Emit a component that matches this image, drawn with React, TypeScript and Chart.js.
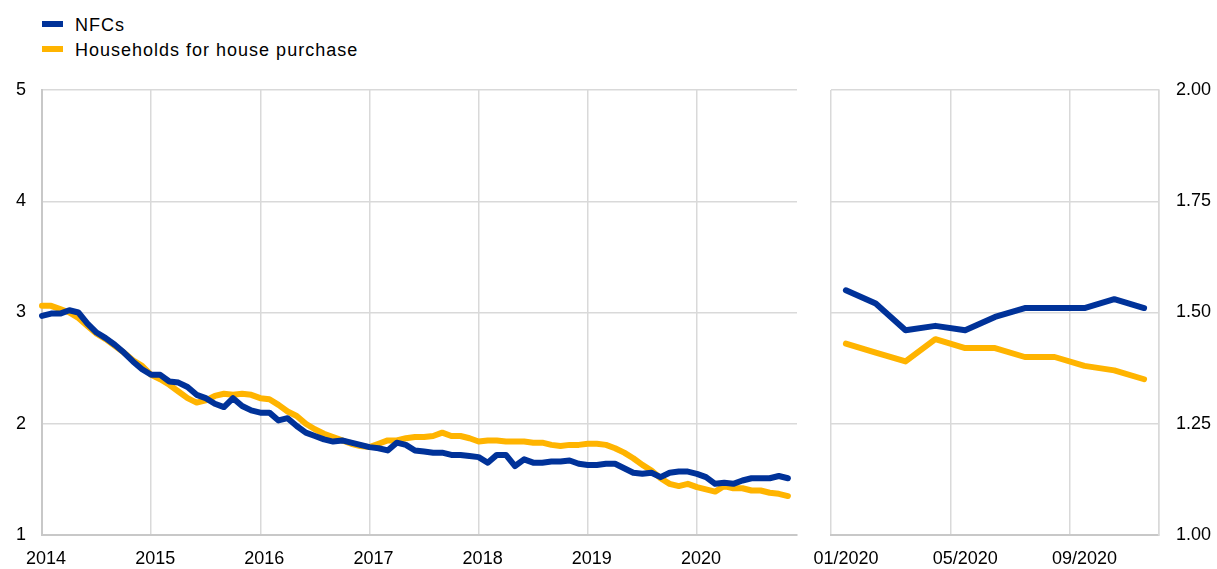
import React, { useEffect, useRef } from "react";
import { Chart, registerables } from "chart.js";

Chart.register(...registerables);

// ---- data ----
const years = ["2014", "2015", "2016", "2017", "2018", "2019", "2020"];
const monthsOfYear = ["01", "02", "03", "04", "05", "06", "07", "08", "09", "10", "11", "12"];

// NFCs, Jan 2014 - Dec 2019
const nfc2014to2019 = [
  2.97, 2.99, 2.99, 3.02, 3.0, 2.9, 2.82, 2.77, 2.71, 2.64, 2.56, 2.49,
  2.44, 2.44, 2.38, 2.37, 2.33, 2.26, 2.23, 2.18, 2.15, 2.23, 2.16, 2.12,
  2.1, 2.1, 2.03, 2.05, 1.98, 1.92, 1.89, 1.86, 1.84, 1.85, 1.83, 1.81,
  1.79, 1.78, 1.76, 1.83, 1.81, 1.76, 1.75, 1.74, 1.74, 1.72, 1.72, 1.71,
  1.7, 1.65, 1.72, 1.72, 1.62, 1.68, 1.65, 1.65, 1.66, 1.66, 1.67, 1.64,
  1.63, 1.63, 1.64, 1.64, 1.6, 1.56, 1.55, 1.56, 1.52, 1.56, 1.57, 1.57,
];
// Households for house purchase, Jan 2014 - Dec 2019
const hh2014to2019 = [
  3.06, 3.06, 3.03, 3.0, 2.95, 2.88, 2.81, 2.76, 2.7, 2.64, 2.57, 2.52,
  2.44, 2.4, 2.35, 2.29, 2.23, 2.19, 2.21, 2.25, 2.27, 2.26, 2.27, 2.26,
  2.23, 2.22, 2.17, 2.11, 2.07, 2.0, 1.95, 1.91, 1.88, 1.85, 1.82, 1.8,
  1.79, 1.82, 1.85, 1.85, 1.87, 1.88, 1.88, 1.89, 1.92, 1.89, 1.89, 1.87,
  1.84, 1.85, 1.85, 1.84, 1.84, 1.84, 1.83, 1.83, 1.81, 1.8, 1.81, 1.81,
  1.82, 1.82, 1.81, 1.78, 1.74, 1.69, 1.63, 1.58, 1.51, 1.46, 1.44, 1.46,
];
// Jan 2020 - Nov 2020
const months2020 = ["01/2020", "02/2020", "03/2020", "04/2020", "05/2020", "06/2020", "07/2020", "08/2020", "09/2020", "10/2020", "11/2020"];
const nfc2020 = [1.55, 1.52, 1.46, 1.47, 1.46, 1.49, 1.51, 1.51, 1.51, 1.53, 1.51];
const hh2020 = [1.43, 1.41, 1.39, 1.44, 1.42, 1.42, 1.4, 1.4, 1.38, 1.37, 1.35];

const leftTicks = [1, 2, 3, 4, 5];
const rightTicks = [1.0, 1.25, 1.5, 1.75, 2.0];

const seriesNames = ["NFCs", "Households for house purchase"];
const BLUE = "#003299";
const YELLOW = "#FFB400";
const GRID = "#d9d9d9";
const BORDER = "#c8c8c8";
const FONT = "'Liberation Sans', Arial, sans-serif";

const monthlyLabels: string[] = [];
years.forEach((y) => monthsOfYear.forEach((m) => monthlyLabels.push(`${m}/${y}`)));
const nfcAll = [...nfc2014to2019, ...nfc2020];
const hhAll = [...hh2014to2019, ...hh2020];

function lineDs(label: string, data: number[], color: string) {
  return {
    label,
    data,
    borderColor: color,
    backgroundColor: color,
    borderWidth: 6,
    pointRadius: 0,
    tension: 0,
    borderJoinStyle: "round" as const,
    borderCapStyle: "round" as const,
    fill: false,
  };
}

export default function App() {
  const leftRef = useRef<HTMLCanvasElement>(null);
  const rightRef = useRef<HTMLCanvasElement>(null);

  useEffect(() => {
    Chart.defaults.font.family = FONT;
    Chart.defaults.font.size = 18;
    Chart.defaults.color = "#000";

    const left = new Chart(leftRef.current!, {
      type: "line",
      data: {
        labels: monthlyLabels,
        datasets: [lineDs(seriesNames[0], nfcAll, BLUE), lineDs(seriesNames[1], hhAll, YELLOW)],
      },
      options: {
        animation: false,
        responsive: false,
        maintainAspectRatio: false,
        layout: { padding: { top: 90, right: 11, left: 0, bottom: 0 } },
        plugins: { legend: { display: false }, tooltip: { enabled: false } },
        scales: {
          x: {
            type: "category",
            offset: false,
            afterFit: (s: any) => { s.height = 34; },
            grid: {
              drawTicks: false,
              lineWidth: 1.5,
              color: (ctx: any) => (ctx.index !== undefined && ctx.index % 12 === 0 ? GRID : "transparent"),
            },
            border: { display: true, color: BORDER, width: 2 },
            ticks: {
              autoSkip: false,
              maxRotation: 0,
              minRotation: 0,
              padding: 13,
              labelOffset: 4,
              callback: (_v: any, i: number) => (i % 12 === 0 ? years[i / 12] : ""),
            },
          },
          y: {
            min: 1,
            max: 5,
            afterFit: (s: any) => { s.width = 42; },
            afterBuildTicks: (s: any) => { s.ticks = leftTicks.map((v) => ({ value: v })); },
            grid: { drawTicks: false, color: GRID, lineWidth: 1.5 },
            border: { display: true, color: BORDER, width: 2 },
            ticks: { padding: 16, callback: (v: any) => String(v) },
          },
        },
      },
    });

    const right = new Chart(rightRef.current!, {
      type: "line",
      data: {
        labels: months2020,
        datasets: [lineDs(seriesNames[0], nfc2020, BLUE), lineDs(seriesNames[1], hh2020, YELLOW)],
      },
      options: {
        animation: false,
        responsive: false,
        maintainAspectRatio: false,
        layout: { padding: { top: 90, right: 0, left: 41, bottom: 0 } },
        plugins: { legend: { display: false }, tooltip: { enabled: false } },
        scales: {
          x: {
            type: "category",
            offset: true,
            afterFit: (s: any) => { s.height = 34; },
            grid: {
              offset: true,
              drawTicks: false,
              lineWidth: 1.5,
              color: (ctx: any) =>
                ctx.index === undefined || ctx.index % 4 === 0 ? GRID : "transparent",
            },
            border: { display: true, color: BORDER, width: 2 },
            ticks: {
              autoSkip: false,
              maxRotation: 0,
              minRotation: 0,
              padding: 13,
              callback: (_v: any, i: number) => (i % 4 === 0 ? months2020[i] : ""),
            },
          },
          y: {
            position: "right",
            min: 1,
            max: 2,
            afterFit: (s: any) => { s.width = 58; },
            afterBuildTicks: (s: any) => { s.ticks = rightTicks.map((v) => ({ value: v })); },
            grid: { drawTicks: false, color: GRID, lineWidth: 1.5 },
            border: { display: true, color: GRID, width: 1.5 },
            ticks: { padding: 17, callback: (v: any) => Number(v).toFixed(2) },
          },
        },
      },
    });

    return () => {
      left.destroy();
      right.destroy();
    };
  }, []);

  const legendItem = (name: string, color: string, top: number, boxTop: number) => (
    <React.Fragment key={name}>
      <div style={{ position: "absolute", left: 42, top: boxTop, width: 21, height: 6, background: color }} />
      <div
        style={{
          position: "absolute",
          left: 75,
          top,
          fontFamily: FONT,
          fontSize: 18,
          lineHeight: "20px",
          letterSpacing: "1px",
          color: "#000",
          whiteSpace: "nowrap",
        }}
      >
        {name}
      </div>
    </React.Fragment>
  );

  return (
    <div style={{ position: "fixed", left: 0, top: 0, width: 1217, height: 569, background: "#fff", overflow: "hidden" }}>
      {legendItem(seriesNames[0], BLUE, 15, 21)}
      {legendItem(seriesNames[1], YELLOW, 40, 46)}
      <canvas
        ref={leftRef}
        width={810}
        height={569}
        style={{ position: "absolute", left: 0, top: 0, width: 810, height: 569 }}
      />
      <canvas
        ref={rightRef}
        width={427}
        height={569}
        style={{ position: "absolute", left: 790, top: 0, width: 427, height: 569 }}
      />
    </div>
  );
}
